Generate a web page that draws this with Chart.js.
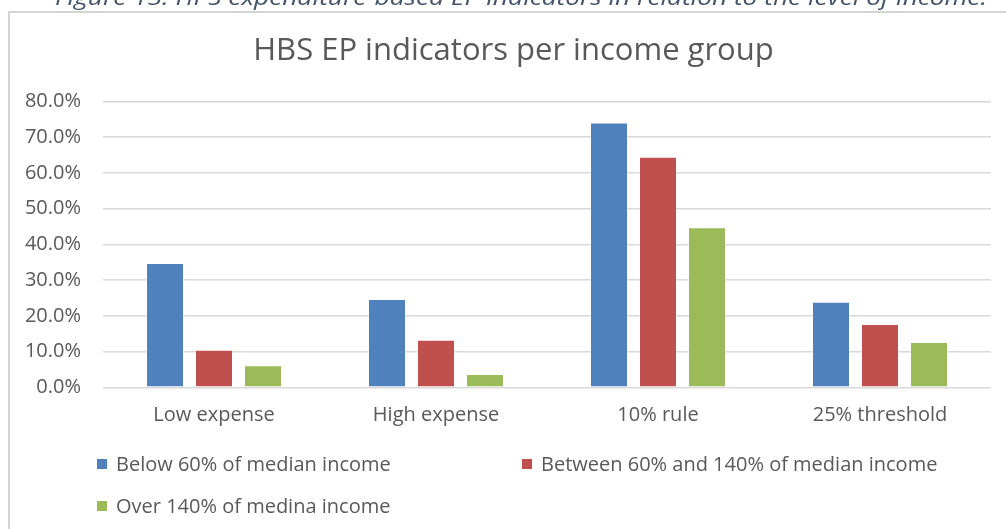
<!DOCTYPE html>
<html>
<head>
<meta charset="utf-8">
<script src="https://cdn.jsdelivr.net/npm/chart.js@4/dist/chart.umd.min.js"></script>
<style>
  html, body { margin: 0; padding: 0; background: #fff; overflow: hidden; }
  #wrap { position: relative; width: 1006px; height: 529px; }
  #caption {
    position: absolute; left: 55px; top: -17px; white-space: nowrap;
    font: italic 21px "Open Sans", sans-serif; color: #44546A;
  }
  canvas { position: absolute; left: 0; top: 0; }
</style>
</head>
<body>
<div id="wrap">
  <canvas id="epChart" width="1006" height="529"></canvas>
  <div id="caption">Figure 13: HPS expenditure-based EP indicators in relation to the level of income.</div>
</div>
<script>
// Indicator categories and shares per income group (percent of households)
const categories = ['Low expense', 'High expense', '10% rule', '25% threshold'];
const seriesNames = [
    'Below 60% of median income',
    'Between 60% and 140% of median income',
    'Over 140% of medina income'
];
const belowMedian = [34.8, 24.7, 74.1, 23.9];
const middleIncome = [10.5, 13.3, 64.5, 17.7];
const overMedian = [6.2, 3.7, 44.8, 12.7];
const yTicks = [0, 10, 20, 30, 40, 50, 60, 70, 80];
const chartTitle = 'HBS EP indicators per income group';

const colors = ['#4F81BD', '#C0504D', '#9BBB59'];
const textColor = '#595959';
const gridColor = '#D9D9D9';
const labelFont = { family: 'Open Sans', size: 20 };

// stretch the caption to the width of the chart frame
const caption = document.getElementById('caption');
const capWidth = caption.getBoundingClientRect().width;
caption.style.transform = 'scaleX(' + (932 / capWidth) + ')';
caption.style.transformOrigin = 'left top';

// white background, frame (only top and left edges fall inside the page) and title
const framePlugin = {
    id: 'frame',
    beforeDraw(chart) {
        const ctx = chart.ctx;
        ctx.save();
        ctx.fillStyle = '#fff';
        ctx.fillRect(0, 0, chart.width, chart.height);
        ctx.strokeStyle = '#D4D4D4';
        ctx.lineWidth = 2;
        ctx.strokeRect(9, 12, 1100, 600);
        ctx.font = '31px "Open Sans"';
        ctx.fillStyle = textColor;
        ctx.textAlign = 'center';
        ctx.textBaseline = 'middle';
        ctx.fillText(chartTitle, 513.5, 51);
        ctx.restore();
    }
};

// legend laid out in two fixed columns like the office chart
const legendPlugin = {
    id: 'fixedLegend',
    afterDraw(chart) {
        const ctx = chart.ctx;
        const slots = [[97, 464], [522, 464], [97, 506]];
        ctx.save();
        ctx.font = labelFont.size + 'px "' + labelFont.family + '"';
        ctx.textBaseline = 'middle';
        chart.data.datasets.forEach((ds, i) => {
            const [x, y] = slots[i];
            ctx.fillStyle = ds.backgroundColor;
            ctx.fillRect(x, y - 5, 10, 10);
            ctx.fillStyle = textColor;
            ctx.fillText(ds.label, x + 19, y + 1);
        });
        ctx.restore();
    }
};

const datasets = [belowMedian, middleIncome, overMedian].map((values, i) => ({
    label: seriesNames[i],
    data: values,
    backgroundColor: colors[i],
    borderColor: 'rgba(255,255,255,0.35)',
    borderWidth: 1,
    categoryPercentage: 0.662,
    barPercentage: 0.776
}));

new Chart(document.getElementById('epChart'), {
    type: 'bar',
    data: { labels: categories, datasets: datasets },
    options: {
        responsive: false,
        animation: false,
        layout: { padding: { left: 0, right: 15, top: 101.3, bottom: 102 } },
        plugins: {
            legend: { display: false },
            title: { display: false },
            tooltip: { enabled: false }
        },
        scales: {
            x: {
                grid: { display: false, drawTicks: false },
                border: { display: false },
                ticks: { color: textColor, font: labelFont, padding: 16 },
                afterFit(scale) { scale.height = 39.7; }
            },
            y: {
                min: 0,
                max: 80,
                afterBuildTicks(scale) { scale.ticks = yTicks.map(v => ({ value: v })); },
                grid: { color: gridColor, lineWidth: 1.5, drawTicks: false },
                border: { display: false },
                ticks: {
                    color: textColor,
                    font: labelFont,
                    padding: 22,
                    callback: v => v.toFixed(1) + '%'
                },
                afterFit(scale) { scale.width = 103; }
            }
        }
    },
    plugins: [framePlugin, legendPlugin]
});
</script>
</body>
</html>
